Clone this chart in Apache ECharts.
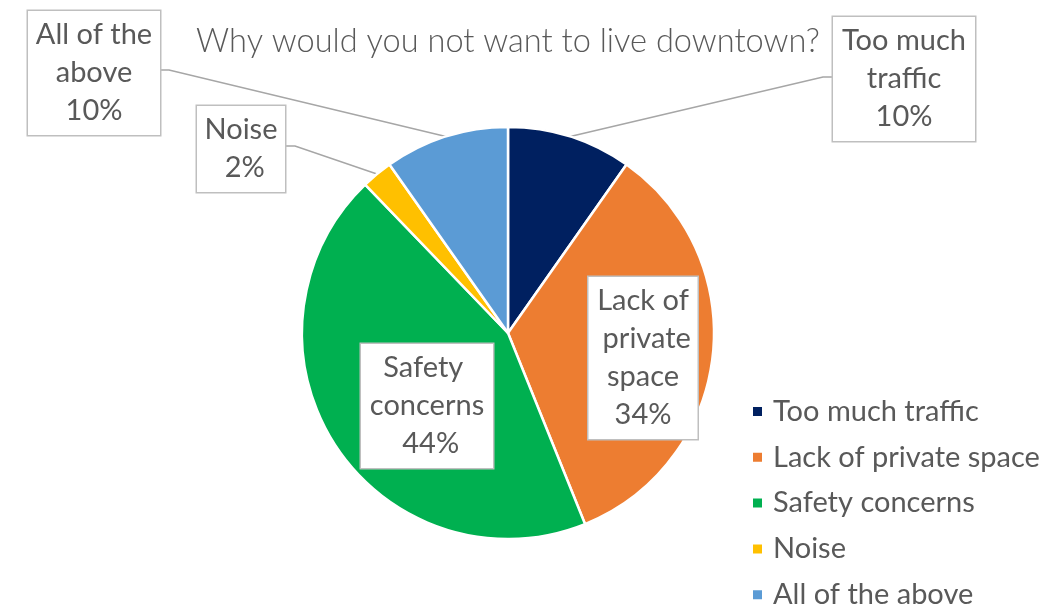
<!DOCTYPE html>
<html>
<head>
<meta charset="utf-8">
<script src="https://cdn.jsdelivr.net/npm/echarts@6/dist/echarts.min.js"></script>
<style>html,body{margin:0;padding:0;background:#fff}#c{width:1051px;height:613px}</style>
</head>
<body>
<div id="c"></div>
<script>
// Data
const categories = ['Too much traffic', 'Lack of private space', 'Safety concerns', 'Noise', 'All of the above'];
const responses = [4, 14, 18, 1, 4];
const colors = ['#002060', '#ED7D31', '#00B050', '#FFC000', '#5B9BD5'];

// Label layout (presentation only)
const labelBoxes = [
  { cx: 904, cy: 79, w: 130, outside: true, elbow: [823, 77], end: [833, 77] },
  { cx: 643, cy: 358, w: 97, outside: false },
  { cx: 427, cy: 406, w: 120, outside: false },
  { cx: 241, cy: 149, w: 76, outside: true, elbow: [295, 146], end: [285, 146] },
  { cx: 94, cy: 73, w: 120, outside: true, elbow: [169, 70], end: [160, 70] }
];

const FONT = 'Lato';
const chart = echarts.init(document.getElementById('c'));
const total = responses.reduce((a, b) => a + b, 0);

chart.setOption({
  animation: false,
  title: {
    text: 'Why would you not want to live downtown?',
    left: 196,
    top: 25,
    padding: 0,
    textStyle: { fontFamily: FONT, fontSize: 32.6, fontWeight: 300, color: '#595959' }
  },
  legend: {
    orient: 'vertical',
    left: 751,
    top: 397,
    height: 216,
    padding: 0,
    itemWidth: 11,
    itemHeight: 11,
    itemGap: 16.8,
    icon: 'rect',
    textStyle: { fontFamily: FONT, fontSize: 29, lineHeight: 29, color: '#595959', padding: [0, 0, 0, 5] },
    data: categories
  },
  series: [{
    type: 'pie',
    center: [508, 333],
    radius: 206,
    startAngle: 90,
    clockwise: true,
    color: colors,
    itemStyle: { borderColor: '#fff', borderWidth: 2.5 },
    label: {
      show: true,
      position: 'outside',
      formatter: p => p.name + ' ' + Math.round(p.value / total * 100) + '%',
      fontFamily: FONT,
      fontSize: 29,
      lineHeight: 38,
      color: '#595959',
      align: 'center',
      overflow: 'break',
      backgroundColor: '#fff',
      borderColor: '#bfbfbf',
      borderWidth: 1.5,
      padding: [5, 6, 5, 6]
    },
    labelLine: { show: true, lineStyle: { color: '#a6a6a6', width: 1.5 } },
    labelLayout: function (params) {
      const b = labelBoxes[params.dataIndex];
      const r = { x: b.cx, y: b.cy, align: 'center', verticalAlign: 'middle' };
      if (b.outside && params.labelLinePoints) {
        r.labelLinePoints = [params.labelLinePoints[0], b.elbow, b.end];
      }
      return r;
    },
    data: categories.map((c, i) => ({
      name: c,
      value: responses[i],
      label: { width: labelBoxes[i].w },
      labelLine: { show: labelBoxes[i].outside }
    }))
  }]
});
</script>
</body>
</html>
